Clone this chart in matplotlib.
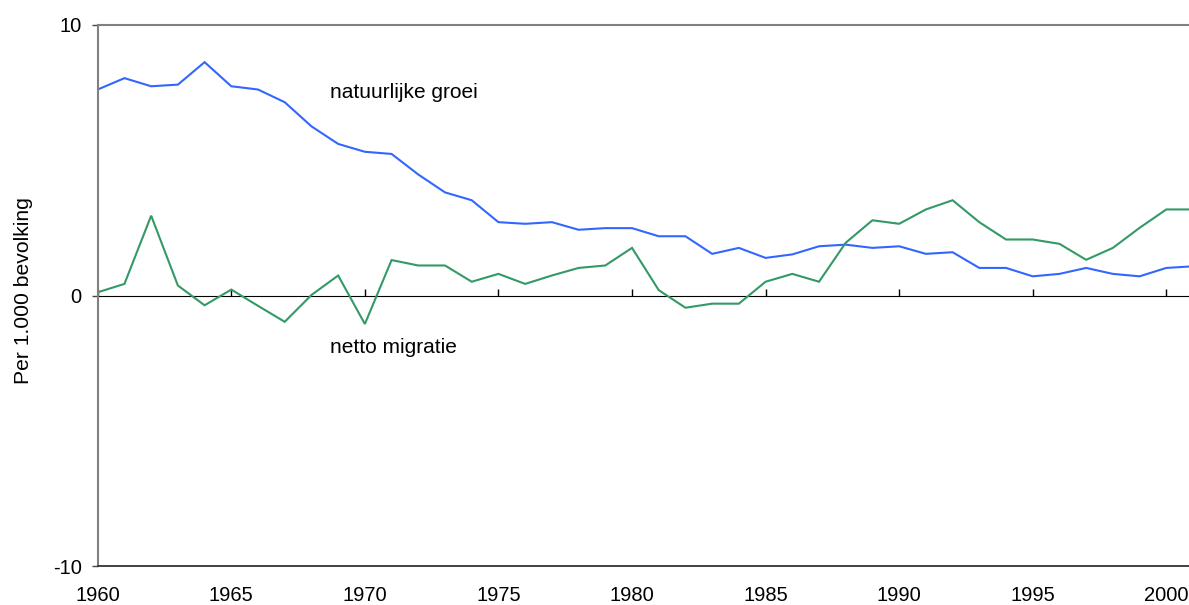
import matplotlib
matplotlib.use("Agg")
import matplotlib.pyplot as plt

plt.rcParams['font.family'] = ['Liberation Sans', 'DejaVu Sans']
plt.rcParams['axes.unicode_minus'] = False

years = list(range(1960, 2002))
natuurlijke_groei = [7.61, 8.03, 7.73, 7.79, 8.62, 7.73, 7.61, 7.14, 6.25, 5.60,
                     5.31, 5.23, 4.47, 3.81, 3.52, 2.71, 2.65, 2.71, 2.43, 2.49,
                     2.49, 2.19, 2.19, 1.54, 1.76, 1.39, 1.52, 1.82, 1.88, 1.76,
                     1.82, 1.54, 1.60, 1.02, 1.02, 0.71, 0.80, 1.02, 0.80, 0.71,
                     1.02, 1.08]
netto_migratie = [0.12, 0.43, 2.95, 0.37, -0.36, 0.22, -0.38, -0.97, 0.02, 0.74,
                  -1.05, 1.31, 1.11, 1.11, 0.51, 0.80, 0.43, 0.74, 1.02, 1.11,
                  1.76, 0.20, -0.45, -0.30, -0.30, 0.51, 0.80, 0.51, 1.95, 2.78,
                  2.65, 3.18, 3.52, 2.71, 2.07, 2.07, 1.91, 1.32, 1.76, 2.50,
                  3.18, 3.18]
x_ticks = list(range(1960, 2001, 5))
y_ticks = [-10, 0, 10]
label_groei = "natuurlijke groei"
label_migratie = "netto migratie"
y_title = "Per 1.000 bevolking"

fig = plt.figure(figsize=(11.89, 6.05), dpi=100)
ax = fig.add_axes([0.0822, 0.064, 1 - 0.0822, 0.959 - 0.064])

ax.plot(years, natuurlijke_groei, color='#3366FF', lw=1.5, solid_joinstyle='miter')
ax.plot(years, netto_migratie, color='#339966', lw=1.5, solid_joinstyle='miter')

ax.set_xlim(1960, 2000.85)
ax.set_ylim(-10, 10)

ax.set_xticks(x_ticks)
ax.set_xticklabels([str(y) for y in x_ticks])
ax.set_yticks(y_ticks)
ax.tick_params(axis='x', length=0, pad=14.5, labelsize=14.5, colors='black')
ax.tick_params(axis='y', length=4.5, width=1, pad=7, labelsize=14.5, direction='out', color='#444444')

for s in ['left', 'top']:
    ax.spines[s].set_color('#808080')
    ax.spines[s].set_linewidth(1.5)
ax.spines['bottom'].set_color('#333333')
ax.spines['bottom'].set_linewidth(1.3)
ax.spines['right'].set_visible(False)

# zero line with ticks
sec = ax.secondary_xaxis(0.5)
sec.set_xticks(x_ticks)
sec.set_xticklabels([])
sec.tick_params(length=5, width=1, direction='out', color='black')
sec.spines['bottom'].set_color('black')
sec.spines['bottom'].set_linewidth(1.3)

ax.text(1968.70, 7.31, label_groei, fontsize=15, va='baseline', ha='left')
ax.text(1968.70, -2.12, label_migratie, fontsize=15, va='baseline', ha='left')

fig.text(23.5 / 1189, 1 - 291 / 605, y_title, rotation=90, ha='center', va='center', fontsize=15.2)

fig.savefig('out.png', dpi=100)
